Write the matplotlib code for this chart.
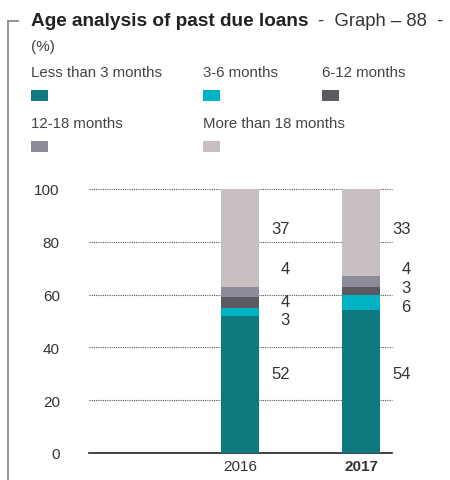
import matplotlib

matplotlib.use("Agg")
import matplotlib.pyplot as plt
from matplotlib.patches import Rectangle
from matplotlib.lines import Line2D

plt.rcParams["font.family"] = ["Liberation Sans", "DejaVu Sans"]

years = ["2016", "2017"]
buckets = ["Less than 3 months", "3-6 months", "6-12 months",
           "12-18 months", "More than 18 months"]
shares_2016 = [52, 3, 4, 4, 37]
shares_2017 = [54, 6, 3, 4, 33]
colors = ["#0e7a80", "#00b3c4", "#5c5a60", "#8c8b98", "#c7bfc0"]

# where each value label sits (staggered so the thin segments don't collide)
label_y_2016 = [30, 50.5, 57.5, 70, 85]
label_y_2017 = [30, 55.5, 62.8, 70, 85]

W, H = 450, 481
fig = plt.figure(figsize=(W / 100, H / 100), dpi=100)


def px(x, y):
    return x / W, 1 - y / H


# frame bracket on the left
fig.add_artist(Line2D([8 / W, 8 / W], [0, 1 - 22 / H], color="#8a8a8a", lw=1.3))
fig.add_artist(Line2D([8 / W, 18 / W], [1 - 22 / H, 1 - 22 / H], color="#8a8a8a", lw=1.3))

fig.text(*px(31, 22), "Age analysis of past due loans", fontsize=13.7,
         fontweight="bold", color="#222222", va="center")
fig.text(*px(318, 22), "-  Graph – 88  -", fontsize=13.3, color="#333333", va="center")
fig.text(*px(31, 47), "(%)", fontsize=11, color="#444444", va="center")

# legend laid out as in a report: label above a small swatch
leg_pos = [(31, 73), (203, 73), (322, 73), (31, 124), (203, 124)]
for name, c, (lx, ly) in zip(buckets, colors, leg_pos):
    fig.text(*px(lx, ly), name, fontsize=10.8, color="#444444", va="center")
    fig.add_artist(Rectangle((lx / W, 1 - (ly + 29) / H), 17 / W, 11 / H,
                             transform=fig.transFigure, color=c, lw=0))

ax = fig.add_axes([89 / W, 27 / H, 303 / W, 264 / H])
xs = [0, 1]
for i, vals in enumerate([shares_2016, shares_2017]):
    bottom = 0
    for v, c in zip(vals, colors):
        ax.bar(xs[i], v, bottom=bottom, width=0.314, color=c, lw=0, zorder=3)
        bottom += v

for i, (vals, ly) in enumerate([(shares_2016, label_y_2016), (shares_2017, label_y_2017)]):
    for v, y in zip(vals, ly):
        ax.text(xs[i] + 0.41, y, str(v), ha="right", va="center",
                fontsize=12, color="#333333")

ax.set_xlim(-1.248, 1.256)
ax.set_ylim(0, 100)
ax.set_yticks([0, 20, 40, 60, 80, 100])
ax.set_xticks(xs)
ax.set_xticklabels(years)
ax.get_xticklabels()[1].set_fontweight("bold")
for s in ["top", "right", "left"]:
    ax.spines[s].set_visible(False)
ax.spines["bottom"].set_color("#222222")
ax.spines["bottom"].set_linewidth(1.2)
ax.tick_params(axis="both", length=0, labelsize=11, colors="#333333")
ax.tick_params(axis="y", pad=21)
ax.tick_params(axis="x", pad=4)
for y in [20, 40, 60, 80, 100]:
    ax.axhline(y, color="#555555", lw=0.8, ls=(0, (1, 1)), zorder=1, clip_on=False)

fig.savefig("out.png", dpi=100)
